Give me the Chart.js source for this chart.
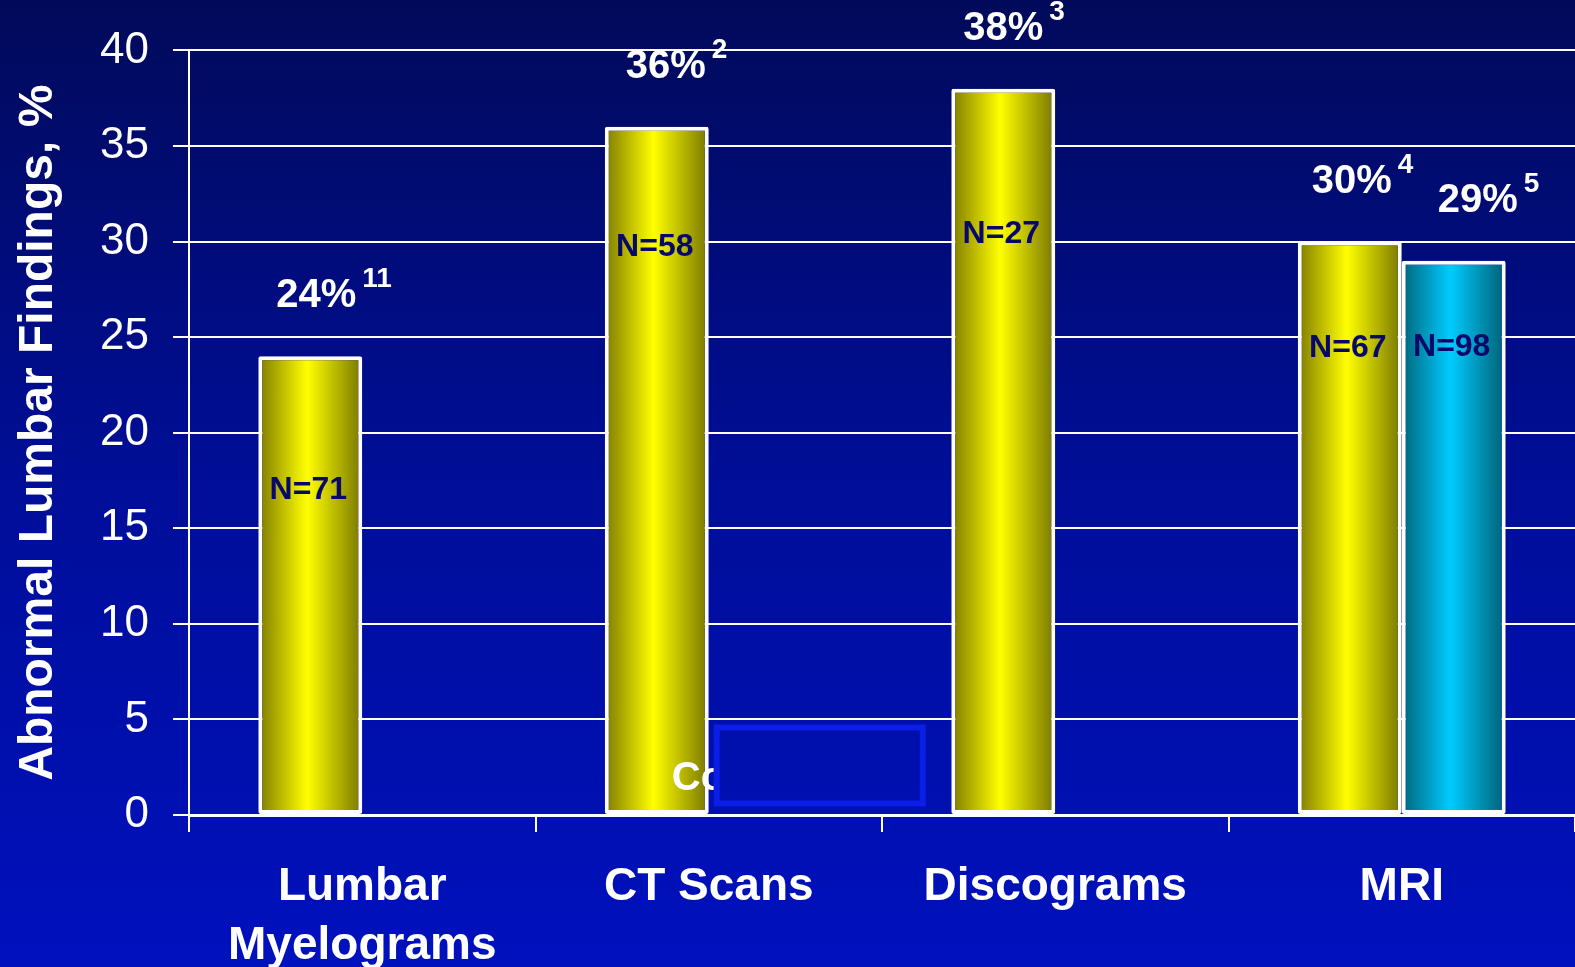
<!DOCTYPE html>
<html>
<head>
<meta charset="utf-8">
<script src="https://cdn.jsdelivr.net/npm/chart.js@4"></script>
<style>
  html, body { margin: 0; padding: 0; background: #000e96; }
  #wrap { width: 1575px; height: 967px; position: relative; }
</style>
</head>
<body>
<div id="wrap"><canvas id="myChart"></canvas></div>
<script>
// categories and values
var categories = [["Lumbar", "Myelograms"], "CT Scans", "Discograms", "MRI"];
var studyA = [24, 36, 38, 30];
var studyB = [null, null, null, 29];
var refsA = ["11", "2", "3", "4"];
var refsB = [null, null, null, "5"];
var sizeA = [71, 58, 27, 67];
var sizeB = [null, null, null, 98];
var yTicks = [0, 5, 10, 15, 20, 25, 30, 35, 40];

var FONT = "'Liberation Sans', Arial, Helvetica, sans-serif";
var CAT_PCT = 0.6;

// label placement tweaks (pixels / axis units), per dataset then per category
var pctShift = [[6, 9, 0, 2], [0, 0, 0, 24]];
var nLevel = [[17, 29.7, 30.4, 24.4], [0, 0, 0, 24.5]];

function bgGradient(c, h) {
  var g = c.createLinearGradient(0, 0, 0, h);
  g.addColorStop(0, "#010a5a");
  g.addColorStop(0.5, "#000e98");
  g.addColorStop(1, "#0011be");
  return g;
}

// horizontal shading across each bar, computed from the x scale
function barShade(stops) {
  return function (ctx) {
    var chart = ctx.chart, xs = chart.scales.x;
    if (!xs || !chart.chartArea) return stops[1];
    var slot = (xs.width / categories.length) * CAT_PCT / 2;
    var cx = xs.getPixelForValue(ctx.dataIndex) + (ctx.datasetIndex - 0.5) * slot;
    var g = chart.ctx.createLinearGradient(cx - slot / 2, 0, cx + slot / 2, 0);
    g.addColorStop(0, stops[0]);
    g.addColorStop(0.47, stops[1]);
    g.addColorStop(1, stops[2]);
    return g;
  };
}

var background = {
  id: "background",
  beforeDraw: function (chart) {
    var c = chart.ctx;
    c.save();
    c.fillStyle = bgGradient(c, chart.height);
    c.fillRect(0, 0, chart.width, chart.height);
    c.restore();
  }
};

var barLabels = {
  id: "barLabels",
  afterDatasetsDraw: function (chart) {
    var c = chart.ctx, ys = chart.scales.y;
    var refs = [refsA, refsB], sizes = [sizeA, sizeB];
    c.save();
    chart.data.datasets.forEach(function (ds, d) {
      chart.getDatasetMeta(d).data.forEach(function (bar, i) {
        var v = ds.data[i];
        if (v === null || v === undefined) return;
        // percentage with reference number
        var txt = v + "%";
        var x = bar.x + pctShift[d][i];
        var base = bar.y - 49;
        c.fillStyle = "#ffffff";
        c.font = "bold 40px " + FONT;
        c.textAlign = "center";
        c.textBaseline = "alphabetic";
        c.fillText(txt, x, base);
        var w = c.measureText(txt).width;
        c.font = "bold 28px " + FONT;
        c.textAlign = "left";
        c.fillText(refs[d][i], x + w / 2 + 6, base - 20);
        // sample size inside the bar
        c.fillStyle = "#08086a";
        c.font = "bold 32px " + FONT;
        c.textAlign = "center";
        c.textBaseline = "middle";
        c.fillText("N=" + sizes[d][i], bar.x - 2, ys.getPixelForValue(nLevel[d][i]));
      });
    });

    // leftover caption box near the CT column
    var xs = chart.scales.x;
    var left = xs.getPixelForValue(1) + 5;
    var top = ys.getPixelForValue(5) + 5;
    c.fillStyle = "#ffffff";
    c.font = "bold 40px " + FONT;
    c.textAlign = "left";
    c.textBaseline = "alphabetic";
    c.fillText("Co", left - 42, top + 66);
    c.fillStyle = bgGradient(c, chart.height);
    c.fillRect(left, top, 212, 82);
    c.strokeStyle = "#0a1ee6";
    c.lineWidth = 6;
    c.strokeRect(left + 3, top + 3, 206, 76);
    c.restore();
  }
};

var ctx = document.getElementById("myChart");
var myChart = new Chart(ctx, {
  type: "bar",
  data: {
    labels: categories,
    datasets: [{
      data: studyA,
      backgroundColor: barShade(["#7e7a00", "#ffff00", "#787600"]),
      borderColor: "#ffffff",
      borderWidth: 4,
      borderSkipped: false,
      borderRadius: 2,
      categoryPercentage: CAT_PCT,
      barPercentage: 1
    },
    {
      data: studyB,
      backgroundColor: barShade(["#00647a", "#00ccff", "#005e74"]),
      borderColor: "#ffffff",
      borderWidth: 4,
      borderSkipped: false,
      borderRadius: 2,
      categoryPercentage: CAT_PCT,
      barPercentage: 1
    }]
  },
  options: {
    responsive: true,
    maintainAspectRatio: false,
    animation: false,
    layout: { padding: { top: 49, left: 0, right: 0, bottom: 0 } },
    plugins: {
      legend: { display: false },
      tooltip: { enabled: false }
    },
    scales: {
      x: {
        grid: {
          drawOnChartArea: false,
          drawTicks: true,
          tickLength: 17,
          color: "#ffffff",
          lineWidth: 2
        },
        border: { color: "#ffffff", width: 3 },
        ticks: {
          color: "#ffffff",
          maxRotation: 0,
          padding: 25,
          font: { family: FONT, size: 46, weight: "bold", lineHeight: 1.3 }
        },
        afterFit: function (scale) { scale.height = 152; }
      },
      y: {
        min: 0,
        max: 40,
        afterBuildTicks: function (scale) {
          scale.ticks = yTicks.map(function (v) { return { value: v }; });
        },
        grid: {
          color: "#ffffff",
          lineWidth: 2,
          tickLength: 16
        },
        border: { color: "#ffffff", width: 2 },
        ticks: {
          color: "#ffffff",
          padding: 24,
          font: { family: FONT, size: 44 }
        },
        title: {
          display: true,
          text: "Abnormal Lumbar Findings, %",
          color: "#ffffff",
          padding: { top: 10, bottom: 0 },
          font: { family: FONT, size: 48, weight: "bold" }
        },
        afterFit: function (scale) { scale.width = 189; }
      }
    }
  },
  plugins: [background, barLabels]
});
</script>
</body>
</html>
